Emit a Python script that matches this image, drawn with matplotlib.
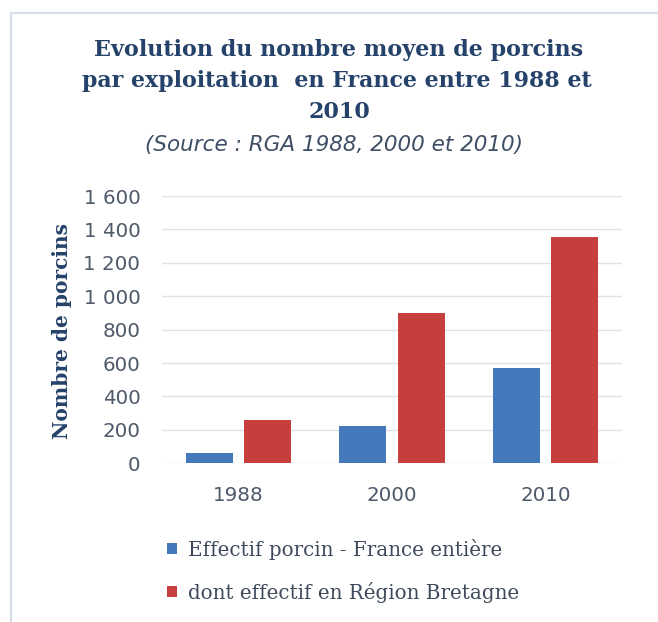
import matplotlib
matplotlib.use("Agg")
import matplotlib.pyplot as plt
import numpy as np
from matplotlib.lines import Line2D

years = ["1988", "2000", "2010"]
france = [63, 223, 569]
bretagne = [259, 901, 1357]
series_names = ["Effectif porcin - France entière", "dont effectif en Région Bretagne"]
yticks = [0, 200, 400, 600, 800, 1000, 1200, 1400, 1600]
ytick_labels = ["0", "200", "400", "600", "800", "1 000", "1 200", "1 400", "1 600"]

W, H = 658, 622
fig = plt.figure(figsize=(W / 100, H / 100), dpi=100)
fig.patch.set_facecolor("white")

# chart border (top and left visible)
fig.add_artist(Line2D([10.5 / W, 10.5 / W], [0, 1 - 12.5 / H], transform=fig.transFigure, color="#D5DEE8", lw=1.5))
fig.add_artist(Line2D([10.5 / W, 1], [1 - 12.5 / H, 1 - 12.5 / H], transform=fig.transFigure, color="#D5DEE8", lw=1.5))

title_color = "#25426A"
fig.text(339 / W, 1 - 50 / H, "Evolution du nombre moyen de porcins", ha="center", va="center",
         fontsize=16, fontweight="bold", family="DejaVu Serif", color=title_color)
fig.text(337 / W, 1 - 81 / H, "par exploitation  en France entre 1988 et", ha="center", va="center",
         fontsize=15.9, fontweight="bold", family="DejaVu Serif", color=title_color)
fig.text(339 / W, 1 - 112 / H, "2010", ha="center", va="center",
         fontsize=16, fontweight="bold", family="DejaVu Serif", color=title_color)
fig.text(334 / W, 1 - 145 / H, "(Source : RGA 1988, 2000 et 2010)", ha="center", va="center",
         fontsize=15.5, style="italic", family="DejaVu Sans", color="#3F4F66")

ax_left, ax_right = 162, 622
ax_bottom, ax_top = 463.3, 196
ax = fig.add_axes([ax_left / W, 1 - ax_bottom / H, (ax_right - ax_left) / W, (ax_bottom - ax_top) / H])

x = np.arange(len(years))
bw = 0.306
gap = 0.075
ax.bar(x - (bw + gap) / 2, france, width=bw, color="#4479BC", label=series_names[0], zorder=3)
ax.bar(x + (bw + gap) / 2, bretagne, width=bw, color="#C5403D", label=series_names[1], zorder=3)

ax.set_xlim(-0.5, len(years) - 0.5)
ax.set_ylim(0, 1600)
ax.set_yticks(yticks)
ax.set_yticklabels(ytick_labels)
ax.set_xticks(x)
ax.set_xticklabels(years)
ax.grid(axis="y", color="#DCE3EA", lw=1, zorder=0)
for s in ax.spines.values():
    s.set_visible(False)
ax.tick_params(axis="both", length=0, labelsize=14.3, colors="#4F5A6B")
ax.tick_params(axis="y", pad=15.5)
ax.tick_params(axis="x", pad=16)
for lab in ax.get_xticklabels() + ax.get_yticklabels():
    lab.set_family("DejaVu Sans")

fig.text(62 / W, 1 - 331 / H, "Nombre de porcins", rotation=90, ha="center", va="center",
         fontsize=14.5, fontweight="bold", family="DejaVu Serif", color=title_color)

handles, labels = ax.get_legend_handles_labels()
leg = fig.legend(handles, labels, loc="upper left", bbox_to_anchor=(149 / W, 1 - 521 / H),
                 frameon=False, handlelength=0.5, handleheight=0.5, handletextpad=0.55,
                 labelspacing=1.1, prop={"family": "DejaVu Serif", "size": 14.3})
for t in leg.get_texts():
    t.set_color("#3E4A5C")

fig.savefig("out.png", dpi=100, facecolor="white")
